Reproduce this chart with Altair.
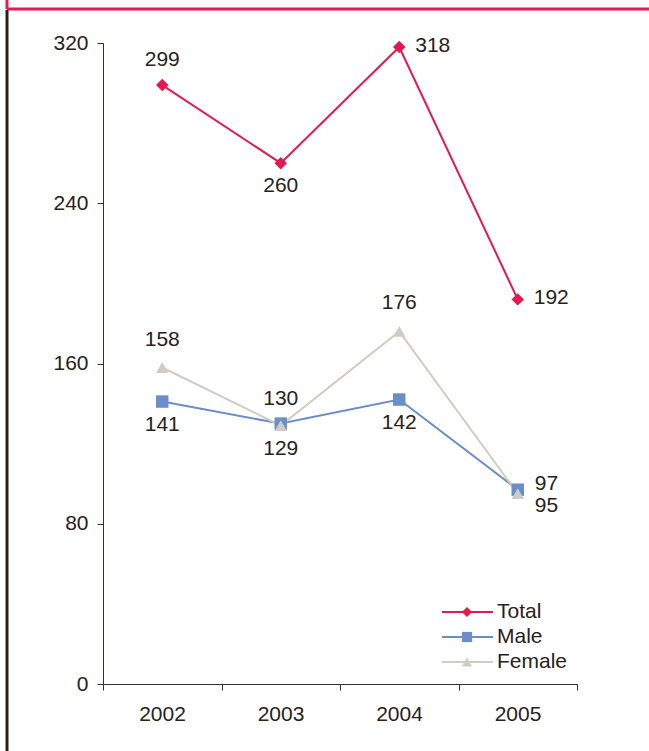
import altair as alt
import pandas as pd

years = [2002, 2003, 2004, 2005]
series_names = ["Total", "Male", "Female"]
total = [299, 260, 318, 192]
male = [141, 130, 142, 97]
female = [158, 129, 176, 95]
y_ticks = [0, 80, 160, 240, 320]

colors = ["#E5194F", "#6B8DC8", "#CFCDC2"]
shapes = ["diamond", "square", "triangle-up"]

# label placement per point (style only)
placement = {
    "Total": ["above", "below", "right", "right"],
    "Male": ["below", "above", "below", "right_up"],
    "Female": ["above_hi", "below", "above_hi", "right_down"],
}
offsets = {
    "above": (0, -25, "center"),
    "above_hi": (0, -28, "center"),
    "below": (0, 23, "center"),
    "right": (16, -1, "left"),
    "right_up": (17, -6, "left"),
    "right_down": (17, 12, "left"),
}

rows = []
for name, vals in zip(series_names, [total, male, female]):
    for yr, v, p in zip(years, vals, placement[name]):
        rows.append({"series": name, "year": yr, "value": v, "place": p})
df = pd.DataFrame(rows)

FONT = "Liberation Sans"
FS = 21
TXT = "#2A2118"
AX = "#3A2F25"

color_scale = alt.Scale(domain=series_names, range=colors)
shape_scale = alt.Scale(domain=series_names, range=shapes)

x_enc = alt.X(
    "year:Q",
    scale=alt.Scale(domain=[years[0] - 0.5, years[-1] + 0.5], nice=False, zero=False),
    axis=alt.Axis(
        values=[y - 0.5 for y in years] + [years[-1] + 0.5],
        labelExpr=f"datum.value < {years[-1]} ? toString(datum.value + 0.5) : ''",
        labelOffset=59,
        labelOverlap=False,
        labelBound=False,
        labelFlush=False,
        title=None,
        grid=False,
        tickSize=6,
        labelPadding=13,
        labelFontSize=FS,
        labelFont=FONT,
        labelColor=TXT,
        domainColor=AX,
        tickColor=AX,
    ),
)
y_enc = alt.Y(
    "value:Q",
    scale=alt.Scale(domain=[0, 320], nice=False),
    axis=alt.Axis(
        values=y_ticks,
        title=None,
        grid=False,
        tickSize=6,
        labelPadding=9,
        labelFontSize=FS,
        labelFont=FONT,
        labelColor=TXT,
        domainColor=AX,
        tickColor=AX,
    ),
)

base = alt.Chart(df)

lines = base.mark_line(strokeWidth=2).encode(
    x=x_enc,
    y=y_enc,
    color=alt.Color("series:N", scale=color_scale, legend=None),
    detail="series:N",
)
points = base.mark_point(filled=True, size=155, opacity=1).encode(
    x="year:Q",
    y="value:Q",
    color=alt.Color("series:N", scale=color_scale, legend=None),
    shape=alt.Shape("series:N", scale=shape_scale, legend=None),
)

layers = [lines, points]
for place, (dx, dy, align) in offsets.items():
    layers.append(
        base.transform_filter(alt.datum.place == place)
        .mark_text(dx=dx, dy=dy, align=align, baseline="middle", font=FONT, fontSize=FS, color=TXT)
        .encode(x="year:Q", y="value:Q", text="value:Q")
    )

# manual legend
leg_y0 = 569
for i, (name, col, shp) in enumerate(zip(series_names, colors, shapes)):
    ld = alt.Data(values=[{"series": name}])
    yy = leg_y0 + 25 * i
    layers.append(
        alt.Chart(ld).mark_rule(color=col, strokeWidth=2).encode(
            x=alt.value(339), x2=alt.value(390), y=alt.value(yy)
        )
    )
    layers.append(
        alt.Chart(ld).mark_point(filled=True, size=105, opacity=1, color=col, shape=shp).encode(
            x=alt.value(364), y=alt.value(yy)
        )
    )
    layers.append(
        alt.Chart(ld).mark_text(align="left", baseline="middle", font=FONT, fontSize=FS, color=TXT).encode(
            x=alt.value(394), y=alt.value(yy), text="series:N"
        )
    )

# page frame lines
fd = alt.Data(values=[{"k": 1}])
layers.append(
    alt.Chart(fd).mark_rule(color="#E5194F", strokeWidth=3).encode(
        x=alt.value(-96), x2=alt.value(560), y=alt.value(-34)
    )
)
layers.append(
    alt.Chart(fd).mark_rule(color="#E5194F", strokeWidth=3).encode(
        x=alt.value(-96), y=alt.value(-50), y2=alt.value(-34)
    )
)
layers.append(
    alt.Chart(fd).mark_rule(color="#2A2118", strokeWidth=3).encode(
        x=alt.value(-96), y=alt.value(-33), y2=alt.value(720)
    )
)

chart = (
    alt.layer(*layers)
    .properties(
        width=474,
        height=641,
        autosize=alt.AutoSizeParams(type="none"),
        padding={"left": 103, "top": 43, "right": 72, "bottom": 67},
        background="white",
    )
    .configure_view(stroke=None)
)

chart.save("out.html", embed_options={"renderer": "svg", "actions": False})
